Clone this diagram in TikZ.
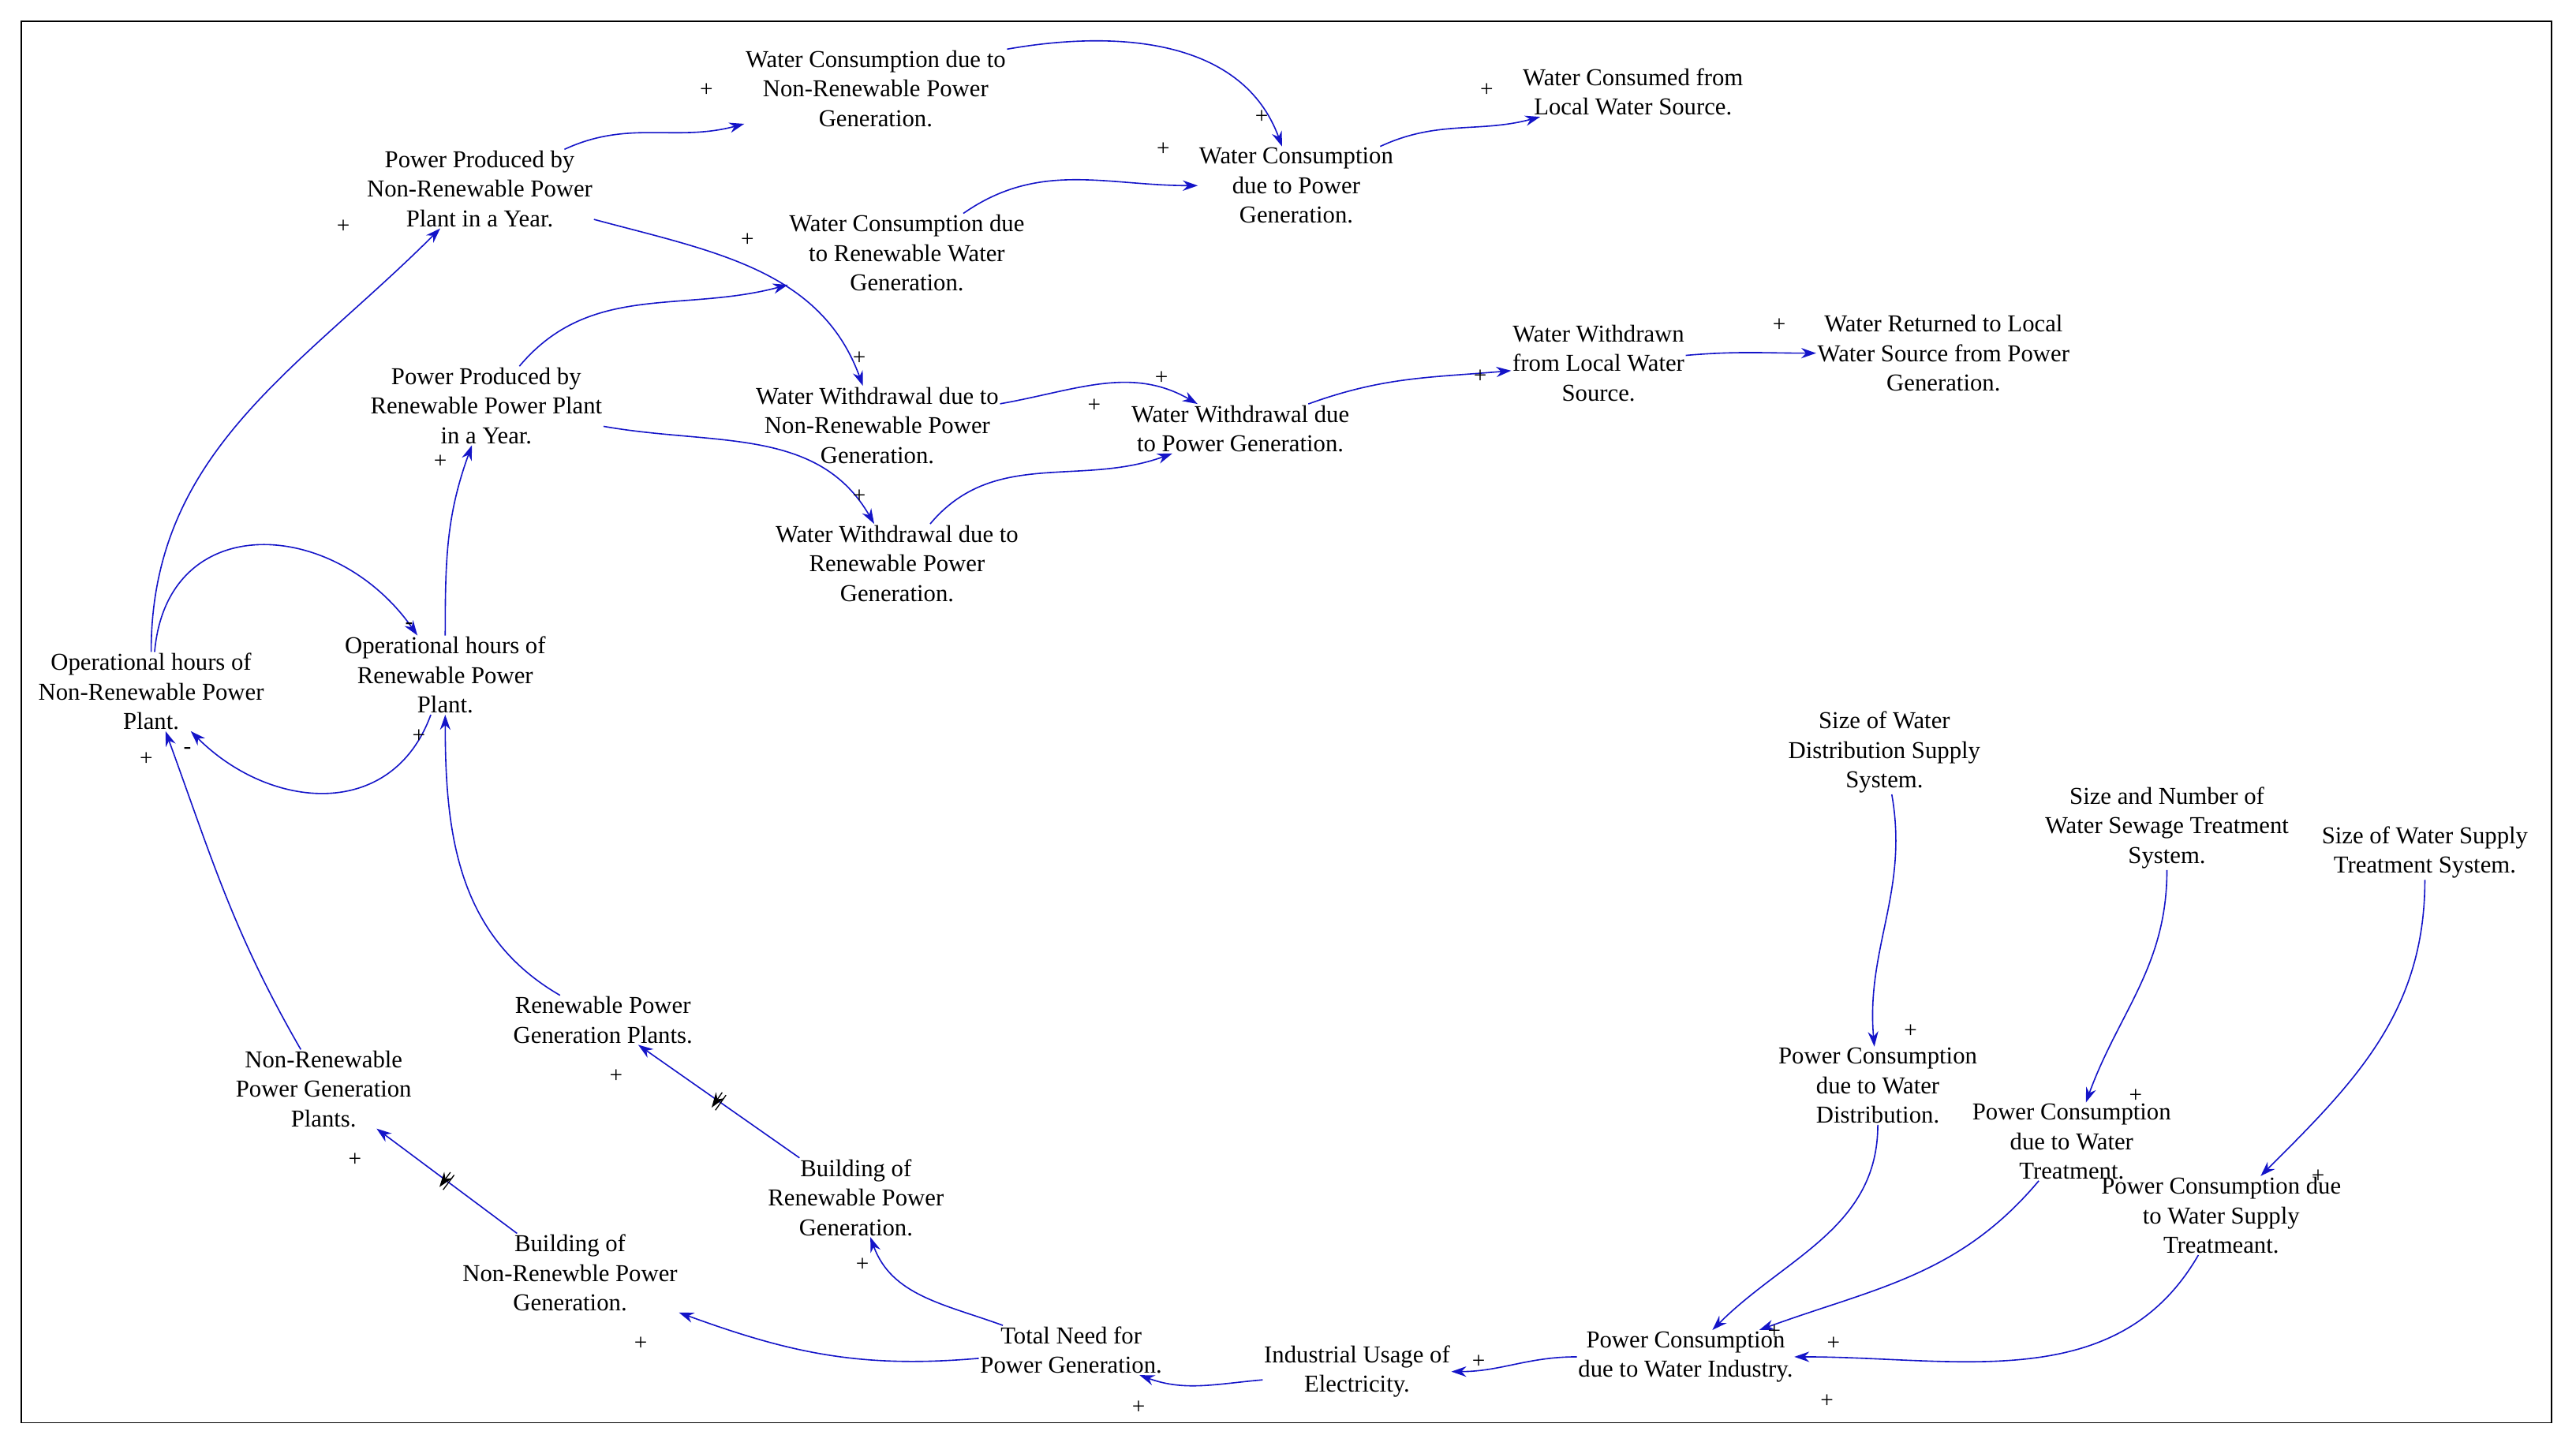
\documentclass[tikz,border=0pt]{standalone}
\usepackage{fontspec}
\setmainfont{Liberation Serif}
\usetikzlibrary{arrows.meta,decorations.markings}
\definecolor{ln}{RGB}{20,20,200}
\begin{document}
\begin{tikzpicture}[x=0.05cm,y=0.05cm,
  v/.style={align=center,inner sep=1pt,font=\fontsize{21}{25.6}\selectfont},
  s/.style={inner sep=0pt,font=\fontsize{20}{20}\selectfont},
  e/.style={draw=ln,line width=1.1pt,-{Stealth[length=13pt,width=9pt]}},
  delay/.style={postaction={decorate},decoration={markings,mark=at position 0.5 with {\draw[black,line width=0.9pt] (-2pt,-8pt)--(-2pt,8pt) (2pt,-8pt)--(2pt,8pt);}}}]
\useasboundingbox (0,0) rectangle (1568,880);
\draw[line width=1pt] (13,14) rectangle (1553,867);
\node[v] (WCNR) at (533,826) {Water Consumption due to\\Non-Renewable Power\\Generation.};
\node[v] (WCPG) at (789,767) {Water Consumption\\due to Power\\Generation.};
\node[v] (WCL) at (994,824) {Water Consumed from\\Local Water Source.};
\node[v] (PPNR) at (292,765) {Power Produced by\\Non-Renewable Power\\Plant in a Year.};
\node[v] (WCR) at (552,726) {Water Consumption due\\to Renewable Water\\Generation.};
\node[v] (PPR) at (296,633) {Power Produced by\\Renewable Power Plant\\in a Year.};
\node[v] (WWNR) at (534,621) {Water Withdrawal due to\\Non-Renewable Power\\Generation.};
\node[v] (WWPG) at (755,619) {Water Withdrawal due\\to Power Generation.};
\node[v] (WWL) at (973,659) {Water Withdrawn\\from Local Water\\Source.};
\node[v] (WRL) at (1183,665) {Water Returned to Local\\Water Source from Power\\Generation.};
\node[v] (WWR) at (546,537) {Water Withdrawal due to\\Renewable Power\\Generation.};
\node[v] (OHNR) at (92,459) {Operational hours of\\Non-Renewable Power\\Plant.};
\node[v] (OHR) at (271,469) {Operational hours of\\Renewable Power\\Plant.};
\node[v] (SWD) at (1147,422) {Size of Water\\Distribution Supply\\System.};
\node[v] (SWS) at (1319,376) {Size and Number of\\Water Sewage Treatment\\System.};
\node[v] (SWST) at (1476,361) {Size of Water Supply\\Treatment System.};
\node[v] (RPG) at (367,259) {Renewable Power\\Generation Plants.};
\node[v] (PCWD) at (1143,219) {Power Consumption\\due to Water\\Distribution.};
\node[v] (PCWT) at (1261,185) {Power Consumption\\due to Water\\Treatment.};
\node[v] (PCWST) at (1352,140) {Power Consumption due\\to Water Supply\\Treatmeant.};
\node[v] (NRPG) at (197,217) {Non-Renewable\\Power Generation\\Plants.};
\node[v] (BRPG) at (521,151) {Building of\\Renewable Power\\Generation.};
\node[v] (BNRPG) at (347,105) {Building of\\Non-Renewble Power\\Generation.};
\node[v] (TNPG) at (652,58) {Total Need for\\Power Generation.};
\node[v] (IUE) at (826,45) {Industrial Usage of\\Electricity.};
\node[v] (PCWI) at (1026,54) {Power Consumption\\due to Water Industry.};
% connectors
\draw[e] (PPNR) to[out=25,in=195] (WCNR);
\draw[e] (WCNR.north east) to[out=10,in=110] (WCPG);
\draw[e] (WCPG) to[out=25,in=195] (WCL);
\draw[e] (WCR) to[out=35,in=180] (WCPG);
\draw[e] (PPNR) to[out=-15,in=110] (WWNR);
\draw[e] (PPR) to[out=50,in=195] (WCR);
\draw[e] (WWNR) to[out=10,in=150] (WWPG);
\draw[e] (WWPG) to[out=20,in=185] (WWL);
\draw[e] (WWL) to[out=5,in=180] (WRL);
\draw[e] (PPR) to[out=-10,in=120] (WWR);
\draw[e] (WWR) to[out=50,in=200] (WWPG);
\draw[e] (OHNR) to[out=90,in=225] (PPNR);
\draw[e] (OHR) to[out=90,in=250] (PPR);
\draw[e] (OHNR) to[out=85,in=125,looseness=1.4] (OHR);
\draw[e] (OHR) to[out=-110,in=-45,looseness=1.2] (OHNR);
\draw[e] (RPG) to[out=150,in=-90] (OHR);
\draw[e] (NRPG) to[out=120,in=-70] (OHNR);
\draw[e,delay] (BRPG) -- (RPG);
\draw[e,delay] (BNRPG) -- (NRPG);
\draw[e] (TNPG) to[out=160,in=-70] (BRPG);
\draw[e] (TNPG) to[out=185,in=-20] (BNRPG);
\draw[e] (IUE) to[out=185,in=-20] (TNPG);
\draw[e] (PCWI) to[out=180,in=0] (IUE);
\draw[e] (SWD) to[out=-80,in=95] (PCWD);
\draw[e] (SWS) to[out=-90,in=70] (PCWT);
\draw[e] (SWST) to[out=-90,in=45] (PCWST);
\draw[e] (PCWD) to[out=-90,in=45] (PCWI);
\draw[e] (PCWT) to[out=-130,in=20] (PCWI);
\draw[e] (PCWST) to[out=-120,in=0] (PCWI);
% polarity signs
\foreach \n/\x/\y/\t in {a/430/825/+,b/768/809/+,c/905/825/+,d/708/789/+,f/523/662/+,g/455/734/+,h/707/650/+,i/901/651/+,j/1083/682/+,k/523/578/+,l/666/633/+,m/209/742/+,n/268/599/+,o/249/499/-,p/114/423/-,q/255/432/+,r/89/418/+,t/375/225/+,u/216/174/+,w/525/110/+,z/390/62/+,aa/693/23/+,ab/900/51/+,ac/1163/252/+,ad/1300/213/+,ae/1411/164/+,af/1080/69/+,ag/1116/62/+,ah/1112/27/+}
  \node[s] (sg\n) at (\x,\y) {\t};
\end{tikzpicture}
\end{document}
